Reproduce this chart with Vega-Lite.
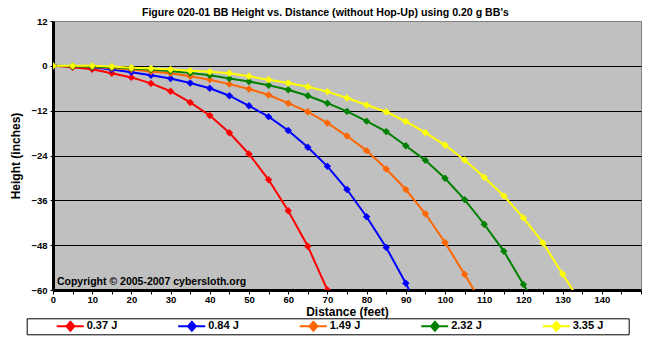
{
  "$schema": "https://vega.github.io/schema/vega-lite/v6.json",
  "width": 588,
  "height": 269,
  "autosize": {"type": "none"},
  "padding": {"left": 53, "top": 21, "right": 16, "bottom": 50},
  "background": "white",
  "title": {
    "text": "Figure 020-01  BB Height vs. Distance (without Hop-Up) using 0.20 g BB's",
    "anchor": "middle",
    "frame": "bounds",
    "font": "Liberation Sans",
    "fontSize": 10.6,
    "fontWeight": "bold",
    "color": "black",
    "offset": -3
  },
  "config": {
    "view": {"fill": "#C0C0C0", "stroke": "#808080", "strokeWidth": 1},
    "axis": {
      "labelFont": "Liberation Sans",
      "labelFontWeight": "bold",
      "labelFontSize": 9.5,
      "labelColor": "black",
      "titleFont": "Liberation Sans",
      "titleFontWeight": "bold",
      "titleFontSize": 12,
      "titleColor": "black",
      "domainColor": "black",
      "domainWidth": 3,
      "tickColor": "black",
      "tickWidth": 1
    }
  },
  "data": {
    "values": [
      {"s": "0.37 J", "x": 0, "y": 0}, {"s": "0.37 J", "x": 5, "y": -0.4}, {"s": "0.37 J", "x": 10, "y": -0.9}, {"s": "0.37 J", "x": 15, "y": -2.0}, {"s": "0.37 J", "x": 20, "y": -3.1}, {"s": "0.37 J", "x": 25, "y": -4.7}, {"s": "0.37 J", "x": 30, "y": -6.8}, {"s": "0.37 J", "x": 35, "y": -9.8}, {"s": "0.37 J", "x": 40, "y": -13.3}, {"s": "0.37 J", "x": 45, "y": -17.9}, {"s": "0.37 J", "x": 50, "y": -23.6}, {"s": "0.37 J", "x": 55, "y": -30.5}, {"s": "0.37 J", "x": 60, "y": -38.8}, {"s": "0.37 J", "x": 65, "y": -48.3}, {"s": "0.37 J", "x": 70, "y": -60.0},
      {"s": "0.84 J", "x": 0, "y": 0}, {"s": "0.84 J", "x": 5, "y": -0.1}, {"s": "0.84 J", "x": 10, "y": -0.4}, {"s": "0.84 J", "x": 15, "y": -1.0}, {"s": "0.84 J", "x": 20, "y": -1.7}, {"s": "0.84 J", "x": 25, "y": -2.5}, {"s": "0.84 J", "x": 30, "y": -3.4}, {"s": "0.84 J", "x": 35, "y": -4.6}, {"s": "0.84 J", "x": 40, "y": -6.0}, {"s": "0.84 J", "x": 45, "y": -8.0}, {"s": "0.84 J", "x": 50, "y": -10.7}, {"s": "0.84 J", "x": 55, "y": -13.6}, {"s": "0.84 J", "x": 60, "y": -17.3}, {"s": "0.84 J", "x": 65, "y": -21.8}, {"s": "0.84 J", "x": 70, "y": -26.9}, {"s": "0.84 J", "x": 75, "y": -33.1}, {"s": "0.84 J", "x": 80, "y": -40.4}, {"s": "0.84 J", "x": 85, "y": -48.6}, {"s": "0.84 J", "x": 90, "y": -58.2}, {"s": "0.84 J", "x": 95, "y": -69.0},
      {"s": "1.49 J", "x": 0, "y": 0}, {"s": "1.49 J", "x": 5, "y": -0.1}, {"s": "1.49 J", "x": 10, "y": -0.3}, {"s": "1.49 J", "x": 15, "y": -0.6}, {"s": "1.49 J", "x": 20, "y": -1.0}, {"s": "1.49 J", "x": 25, "y": -1.5}, {"s": "1.49 J", "x": 30, "y": -2.0}, {"s": "1.49 J", "x": 35, "y": -2.8}, {"s": "1.49 J", "x": 40, "y": -3.7}, {"s": "1.49 J", "x": 45, "y": -4.9}, {"s": "1.49 J", "x": 50, "y": -6.2}, {"s": "1.49 J", "x": 55, "y": -7.8}, {"s": "1.49 J", "x": 60, "y": -10.0}, {"s": "1.49 J", "x": 65, "y": -12.3}, {"s": "1.49 J", "x": 70, "y": -15.3}, {"s": "1.49 J", "x": 75, "y": -18.8}, {"s": "1.49 J", "x": 80, "y": -22.7}, {"s": "1.49 J", "x": 85, "y": -27.6}, {"s": "1.49 J", "x": 90, "y": -33.1}, {"s": "1.49 J", "x": 95, "y": -39.6}, {"s": "1.49 J", "x": 100, "y": -47.3}, {"s": "1.49 J", "x": 105, "y": -55.8}, {"s": "1.49 J", "x": 110, "y": -64.6},
      {"s": "2.32 J", "x": 0, "y": 0}, {"s": "2.32 J", "x": 5, "y": -0.1}, {"s": "2.32 J", "x": 10, "y": -0.2}, {"s": "2.32 J", "x": 15, "y": -0.4}, {"s": "2.32 J", "x": 20, "y": -0.7}, {"s": "2.32 J", "x": 25, "y": -1.0}, {"s": "2.32 J", "x": 30, "y": -1.4}, {"s": "2.32 J", "x": 35, "y": -1.9}, {"s": "2.32 J", "x": 40, "y": -2.5}, {"s": "2.32 J", "x": 45, "y": -3.4}, {"s": "2.32 J", "x": 50, "y": -4.2}, {"s": "2.32 J", "x": 55, "y": -5.2}, {"s": "2.32 J", "x": 60, "y": -6.4}, {"s": "2.32 J", "x": 65, "y": -8.0}, {"s": "2.32 J", "x": 70, "y": -10.0}, {"s": "2.32 J", "x": 75, "y": -12.2}, {"s": "2.32 J", "x": 80, "y": -14.8}, {"s": "2.32 J", "x": 85, "y": -17.6}, {"s": "2.32 J", "x": 90, "y": -21.4}, {"s": "2.32 J", "x": 95, "y": -25.3}, {"s": "2.32 J", "x": 100, "y": -30.1}, {"s": "2.32 J", "x": 105, "y": -35.8}, {"s": "2.32 J", "x": 110, "y": -42.4}, {"s": "2.32 J", "x": 115, "y": -49.6}, {"s": "2.32 J", "x": 120, "y": -58.5}, {"s": "2.32 J", "x": 125, "y": -67.0},
      {"s": "3.35 J", "x": 0, "y": 0}, {"s": "3.35 J", "x": 5, "y": 0}, {"s": "3.35 J", "x": 10, "y": 0}, {"s": "3.35 J", "x": 15, "y": -0.2}, {"s": "3.35 J", "x": 20, "y": -0.5}, {"s": "3.35 J", "x": 25, "y": -0.7}, {"s": "3.35 J", "x": 30, "y": -1.0}, {"s": "3.35 J", "x": 35, "y": -1.3}, {"s": "3.35 J", "x": 40, "y": -1.6}, {"s": "3.35 J", "x": 45, "y": -2.0}, {"s": "3.35 J", "x": 50, "y": -2.8}, {"s": "3.35 J", "x": 55, "y": -3.7}, {"s": "3.35 J", "x": 60, "y": -4.6}, {"s": "3.35 J", "x": 65, "y": -5.6}, {"s": "3.35 J", "x": 70, "y": -6.9}, {"s": "3.35 J", "x": 75, "y": -8.6}, {"s": "3.35 J", "x": 80, "y": -10.5}, {"s": "3.35 J", "x": 85, "y": -12.3}, {"s": "3.35 J", "x": 90, "y": -14.9}, {"s": "3.35 J", "x": 95, "y": -17.9}, {"s": "3.35 J", "x": 100, "y": -21.2}, {"s": "3.35 J", "x": 105, "y": -25.2}, {"s": "3.35 J", "x": 110, "y": -29.8}, {"s": "3.35 J", "x": 115, "y": -34.8}, {"s": "3.35 J", "x": 120, "y": -40.7}, {"s": "3.35 J", "x": 125, "y": -47.4}, {"s": "3.35 J", "x": 130, "y": -55.7}, {"s": "3.35 J", "x": 135, "y": -64.0}
    ]
  },
  "encoding": {
    "x": {
      "field": "x",
      "type": "quantitative",
      "scale": {"domain": [0, 150], "nice": false, "zero": false},
      "axis": {
        "title": "Distance (feet)",
        "values": [0, 5, 10, 15, 20, 25, 30, 35, 40, 45, 50, 55, 60, 65, 70, 75, 80, 85, 90, 95, 100, 105, 110, 115, 120, 125, 130, 135, 140, 145, 150],
        "labelExpr": "datum.value % 10 === 0 && datum.value < 150 ? datum.label : ''",
        "grid": false,
        "tickSize": 4,
        "labelPadding": 0,
        "titlePadding": 3,
        "labelFlush": false,
        "labelOverlap": false
      }
    },
    "y": {
      "field": "y",
      "type": "quantitative",
      "scale": {"domain": [-60, 12], "nice": false, "zero": false},
      "axis": {
        "title": "Height (inches)",
        "values": [12, 0, -12, -24, -36, -48, -60],
        "grid": true,
        "gridColor": "black",
        "gridWidth": 1,
        "gridOpacity": {"condition": {"test": "datum.value === 12 || datum.value === -60", "value": 0}, "value": 1},
        "tickSize": 3,
        "labelPadding": 3,
        "titlePadding": 8.6,
        "labelFlush": false
      }
    },
    "color": {
      "field": "s",
      "type": "nominal",
      "scale": {
        "domain": ["0.37 J", "0.84 J", "1.49 J", "2.32 J", "3.35 J"],
        "range": ["#FF0000", "#0000FF", "#FF6600", "#008000", "#FFFF00"]
      },
      "legend": {
        "title": ".",
        "titleOrient": "right",
        "titlePadding": 19,
        "titleOpacity": 0,
        "titleFontSize": 11,
        "orient": "none",
        "legendX": -26.3,
        "legendY": 297.3,
        "direction": "horizontal",
        "columns": 5,
        "symbolType": "M-1,0M0,0H1M0.36,0L0.507,-0.167L0.655,0L0.507,0.167Z",
        "symbolSize": 2916,
        "symbolStrokeWidth": 2,
        "labelOffset": 2,
        "columnPadding": 32.5,
        "padding": 2,
        "clipHeight": 12,
        "strokeColor": "black",
        "fillColor": "white",
        "labelFont": "Liberation Sans",
        "labelFontSize": 11,
        "labelFontWeight": "bold",
        "labelColor": "black",
        "encode": {
          "symbols": {
            "update": {
              "stroke": {"scale": "color", "field": "value"},
              "fill": {"scale": "color", "field": "value"},
              "opacity": {"value": 1}
            }
          }
        }
      }
    }
  },
  "layer": [
    {"mark": {"type": "line", "strokeWidth": 2, "clip": true}},
    {"mark": {"type": "point", "shape": "diamond", "filled": true, "size": 55, "opacity": 1, "clip": true}},
    {
      "data": {"values": [{"x": 1, "y": -58.7, "t": "Copyright © 2005-2007 cybersloth.org"}]},
      "mark": {"type": "text", "align": "left", "baseline": "alphabetic", "font": "Liberation Sans", "fontSize": 10.5, "fontWeight": "bold"},
      "encoding": {"text": {"field": "t"}, "color": {"value": "black"}}
    }
  ]
}
